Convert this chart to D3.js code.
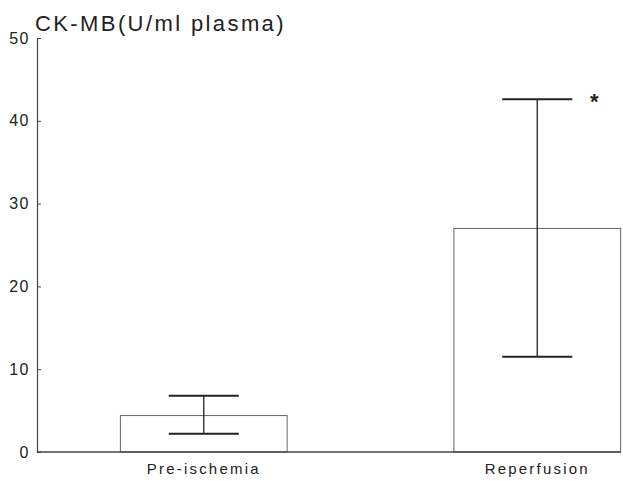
<!DOCTYPE html>
<html>
<head>
<meta charset="utf-8">
<script src="https://cdn.jsdelivr.net/npm/d3@7"></script>
<style>
  body { margin: 0; background: #fff; }
  svg text { font-family: "Liberation Sans", Arial, sans-serif; fill: #222; }
</style>
</head>
<body>
<svg id="chart" width="623" height="481"></svg>
<script>
// values
const categories = ["Pre-ischemia", "Reperfusion"];
const means = [4.4, 27.0];
const errLow = [2.2, 11.5];
const errHigh = [6.8, 42.6];
const signif = ["", "*"];
const yTicks = [0, 10, 20, 30, 40, 50];
const yTitle = "CK-MB(U/ml plasma)";

const width = 623, height = 481;
const x0 = 37, yBase = 452, yTop = 38;

const svg = d3.select("#chart");

const x = d3.scaleBand()
    .domain(categories)
    .range([x0, 704])
    .paddingInner(0.5)
    .paddingOuter(0.25);

const y = d3.scaleLinear()
    .domain([0, 50])
    .range([yBase, yTop]);

// bars
svg.append("g").selectAll("rect")
    .data(categories)
    .join("rect")
    .attr("x", d => x(d))
    .attr("y", (d, i) => y(means[i]))
    .attr("width", x.bandwidth())
    .attr("height", (d, i) => y(0) - y(means[i]))
    .attr("fill", "#fff")
    .attr("stroke", "#666")
    .attr("stroke-width", 1);

// error bars
const capW = x.bandwidth() * 0.42;
const eb = svg.append("g").selectAll("g")
    .data(categories)
    .join("g");
eb.append("line")
    .attr("x1", d => x(d) + x.bandwidth() / 2)
    .attr("x2", d => x(d) + x.bandwidth() / 2)
    .attr("y1", (d, i) => y(errLow[i]))
    .attr("y2", (d, i) => y(errHigh[i]))
    .attr("stroke", "#222")
    .attr("stroke-width", 1.3);
eb.append("line")
    .attr("x1", d => x(d) + x.bandwidth() / 2 - capW / 2)
    .attr("x2", d => x(d) + x.bandwidth() / 2 + capW / 2)
    .attr("y1", (d, i) => y(errHigh[i]))
    .attr("y2", (d, i) => y(errHigh[i]))
    .attr("stroke", "#222")
    .attr("stroke-width", 2);
eb.append("line")
    .attr("x1", d => x(d) + x.bandwidth() / 2 - capW / 2)
    .attr("x2", d => x(d) + x.bandwidth() / 2 + capW / 2)
    .attr("y1", (d, i) => y(errLow[i]))
    .attr("y2", (d, i) => y(errLow[i]))
    .attr("stroke", "#222")
    .attr("stroke-width", 2);
eb.append("text")
    .attr("x", d => x(d) + x.bandwidth() / 2 + capW / 2 + 22)
    .attr("y", (d, i) => y(errHigh[i]) + 10)
    .attr("text-anchor", "middle")
    .attr("font-size", 22)
    .attr("font-weight", "bold")
    .text((d, i) => signif[i]);

// y axis
const yAxis = svg.append("g")
    .attr("transform", "translate(" + x0 + ",0)")
    .call(d3.axisLeft(y).tickValues(yTicks).tickSize(-4).tickPadding(7));
yAxis.select(".domain").attr("stroke", "#444").attr("stroke-width", 1.2);
yAxis.selectAll(".tick line").attr("stroke", "#444");
yAxis.selectAll(".tick text")
    .attr("font-size", 16)
    .attr("letter-spacing", 1.5)
    .attr("fill", "#222");

// baseline
svg.append("line")
    .attr("x1", x0)
    .attr("x2", 621)
    .attr("y1", y(0))
    .attr("y2", y(0))
    .attr("stroke", "#444")
    .attr("stroke-width", 1.3);

// category labels
svg.append("g").selectAll("text")
    .data(categories)
    .join("text")
    .attr("x", d => x(d) + x.bandwidth() / 2)
    .attr("y", 474)
    .attr("text-anchor", "middle")
    .attr("font-size", 15)
    .attr("letter-spacing", 2.2)
    .text(d => d);

// title
svg.append("text")
    .attr("x", 35)
    .attr("y", 31)
    .attr("font-size", 22)
    .attr("letter-spacing", 2.4)
    .text(yTitle);
</script>
</body>
</html>
